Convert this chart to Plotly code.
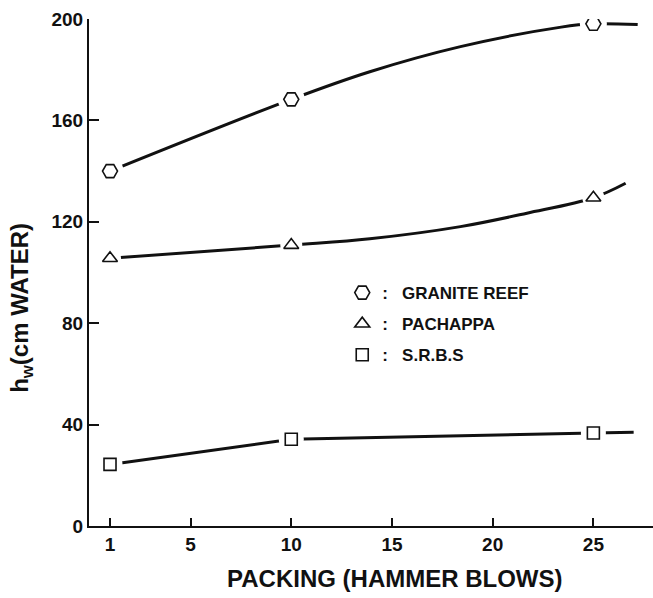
import plotly.graph_objects as go

# Packing effort (hammer blows) and measured water-entry head h_w (cm water)
blows = [1, 10, 25]
granite_reef = [140.0, 168.3, 198.1]
pachappa = [105.6, 110.8, 129.5]
srbs = [24.3, 34.2, 36.7]

# Hand-drawn fitted curves through each soil's measurements
granite_fit_x = [1, 10, 13.9, 18.4, 23.4, 25, 27.2]
granite_fit_y = [140.0, 168.3, 179.2, 189.1, 196.8, 198.1, 197.8]
pachappa_fit_x = [1, 10, 13.9, 18.4, 21.7, 25, 26.6]
pachappa_fit_y = [105.6, 110.8, 113.3, 118.1, 123.4, 129.5, 135.2]
srbs_fit_x = [1, 10, 25, 27]
srbs_fit_y = [24.3, 34.2, 36.7, 37.0]

x_ticks = [1, 5, 10, 15, 20, 25]
y_ticks = [0, 40, 80, 120, 160, 200]

FONT = "Liberation Sans"
INK = "#111111"

series = [
    ("GRANITE REEF", granite_reef, granite_fit_x, granite_fit_y, "spline", "hexagon2", 15, 27),
    ("PACHAPPA", pachappa, pachappa_fit_x, pachappa_fit_y, "spline", "triangle-up", 13, 22),
    ("S.R.B.S", srbs, srbs_fit_x, srbs_fit_y, "linear", "square", 12, 25),
]

fig = go.Figure()

# curves first
for name, vals, fx, fy, shape, sym, msize, gap in series:
    fig.add_trace(go.Scatter(
        x=fx, y=fy, mode="lines", showlegend=False, hoverinfo="skip",
        line=dict(color=INK, width=3, shape=shape, smoothing=1.0),
    ))

# white halos leave a small break in each curve around the points
for name, vals, fx, fy, shape, sym, msize, gap in series:
    fig.add_trace(go.Scatter(
        x=blows, y=vals, mode="markers", showlegend=False, hoverinfo="skip",
        marker=dict(symbol="circle", size=gap, color="white", line=dict(width=0)),
    ))

# open data symbols
for i, (name, vals, fx, fy, shape, sym, msize, gap) in enumerate(series):
    fig.add_trace(go.Scatter(
        x=blows, y=vals, mode="markers",
        name=":\u00a0\u00a0\u00a0" + name, legendgroup="g%d" % i,
        marker=dict(symbol=sym, size=msize, color="white",
                    line=dict(color=INK, width=1.6)),
    ))

fig.update_layout(
    width=653, height=598,
    margin=dict(l=89, r=0, t=19, b=72, autoexpand=False),
    paper_bgcolor="white", plot_bgcolor="white",
    font=dict(family=FONT, color=INK, size=17, weight=700),
    legend=dict(
        x=0.449, y=0.495, xanchor="left", yanchor="top",
        bgcolor="rgba(0,0,0,0)", tracegroupgap=6,
        font=dict(family=FONT, size=17, color=INK, weight=700),
        itemsizing="trace",
    ),
    xaxis=dict(
        range=[-0.043, 27.96], tickmode="array", tickvals=x_ticks,
        ticktext=[str(v) for v in x_ticks],
        ticks="inside", ticklen=8, tickwidth=1.5, tickcolor=INK,
        showline=True, linewidth=2, linecolor=INK,
        showgrid=False, zeroline=False,
        tickfont=dict(family=FONT, size=19, color=INK, weight=700),
        automargin=False,
    ),
    yaxis=dict(
        range=[0, 200], tickmode="array", tickvals=y_ticks,
        ticktext=[str(v) for v in y_ticks],
        ticks="inside", ticklen=10, tickwidth=1.5, tickcolor=INK,
        showline=True, linewidth=2, linecolor=INK,
        showgrid=False, zeroline=False,
        tickfont=dict(family=FONT, size=19, color=INK, weight=700),
        automargin=False,
    ),
    annotations=[
        dict(text="PACKING (HAMMER BLOWS)", xref="paper", yref="paper",
             x=0.5426, y=-0.103, xanchor="center", yanchor="middle",
             showarrow=False,
             font=dict(family=FONT, size=24, color=INK, weight=700)),
        dict(text="h<sub>w</sub>(cm WATER)", xref="paper", yref="paper",
             x=-0.119, y=0.43, xanchor="center", yanchor="middle",
             textangle=-90, showarrow=False,
             font=dict(family=FONT, size=24, color=INK, weight=700)),
    ],
)

fig.write_html("out.html")
